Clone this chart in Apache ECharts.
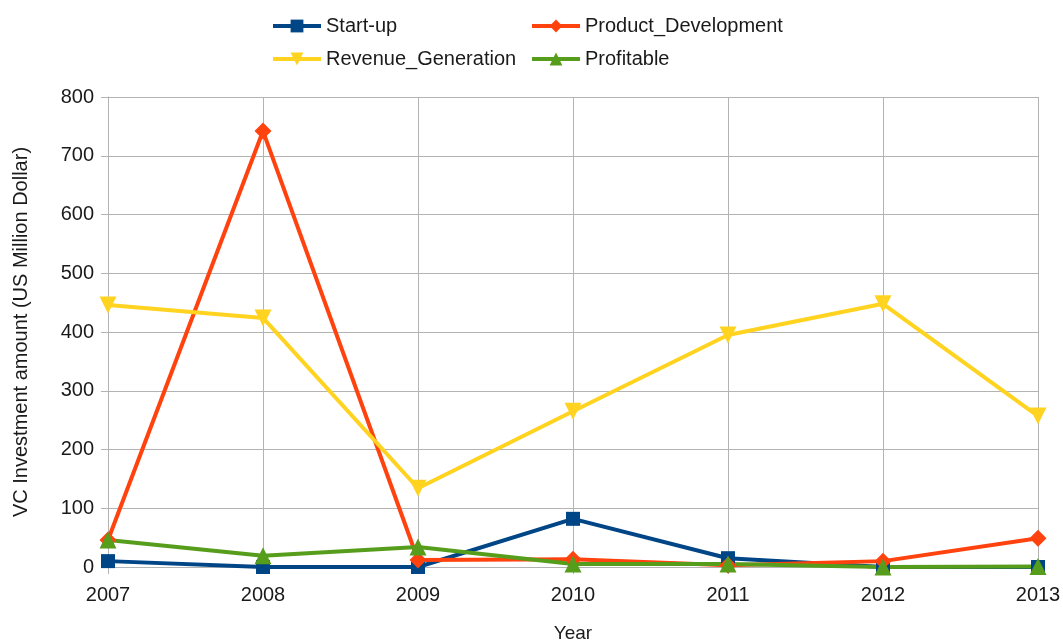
<!DOCTYPE html>
<html>
<head>
<meta charset="utf-8">
<script src="https://cdn.jsdelivr.net/npm/echarts@6/dist/echarts.min.js"></script>
<style>
  html, body { margin: 0; padding: 0; background: #fff; }
  #chart { width: 1063px; height: 644px; }
</style>
</head>
<body>
<div id="chart"></div>
<script>
// VC investment by company stage, 2007–2013 (US million dollar)
const years = ['2007', '2008', '2009', '2010', '2011', '2012', '2013'];
const startUp = [10, 0, 0, 82, 15, 0, 0];
const productDevelopment = [46, 742, 12, 13, 3, 10, 49];
const revenueGeneration = [446, 424, 134, 265, 395, 448, 257];
const profitable = [46, 19, 34, 5, 5, 0, 1];

const font = 'Liberation Sans, Arial, sans-serif';
const gridColor = '#b3b3b3';
const textColor = '#1a1a1a';

function lineSeries(name, data, color, symbol, rotate) {
  return {
    name: name,
    type: 'line',
    data: data,
    symbol: symbol,
    symbolSize: symbol === 'rect' ? 14 : 17,
    symbolRotate: rotate || 0,
    lineStyle: { width: 4, color: color },
    itemStyle: { color: color },
    emphasis: { disabled: true },
    animation: false
  };
}

function legendAt(name, left, top) {
  return {
    data: [name],
    left: left,
    top: top,
    itemWidth: 48,
    itemHeight: 16,
    itemGap: 6,
    lineStyle: { width: 4 },
    textStyle: { fontFamily: font, fontSize: 20, color: textColor }
  };
}

const chart = echarts.init(document.getElementById('chart'), null, { renderer: 'canvas' });
chart.setOption({
  backgroundColor: '#fff',
  legend: [
    legendAt('Start-up', 266, 11),
    legendAt('Product_Development', 525, 11),
    legendAt('Revenue_Generation', 266, 44),
    legendAt('Profitable', 525, 44)
  ],
  grid: { left: 108, right: 25, top: 97, bottom: 77, outerBoundsMode: 'none' },
  xAxis: {
    type: 'category',
    data: years,
    boundaryGap: false,
    name: 'Year',
    nameLocation: 'middle',
    nameGap: 57,
    nameTextStyle: { fontFamily: font, fontSize: 19, color: textColor },
    axisLine: { show: true, lineStyle: { color: gridColor, width: 1 } },
    axisTick: { show: true, length: 7, lineStyle: { color: gridColor } },
    axisLabel: { fontFamily: font, fontSize: 20, color: textColor, margin: 18 },
    splitLine: { show: true, lineStyle: { color: gridColor, width: 1 } }
  },
  yAxis: {
    type: 'value',
    min: 0,
    max: 800,
    interval: 100,
    name: 'VC Investment amount (US Million Dollar)',
    nameLocation: 'middle',
    nameGap: 77,
    nameTextStyle: { fontFamily: font, fontSize: 20, color: textColor },
    axisLine: { show: true, lineStyle: { color: gridColor, width: 1 } },
    axisTick: { show: true, length: 7, lineStyle: { color: gridColor } },
    axisLabel: { fontFamily: font, fontSize: 20, color: textColor, margin: 14 },
    splitLine: { show: true, lineStyle: { color: gridColor, width: 1 } }
  },
  series: [
    lineSeries('Start-up', startUp, '#004586', 'rect'),
    lineSeries('Product_Development', productDevelopment, '#ff420e', 'diamond'),
    lineSeries('Revenue_Generation', revenueGeneration, '#ffd320', 'triangle', 180),
    lineSeries('Profitable', profitable, '#579d1c', 'triangle')
  ]
});
</script>
</body>
</html>
